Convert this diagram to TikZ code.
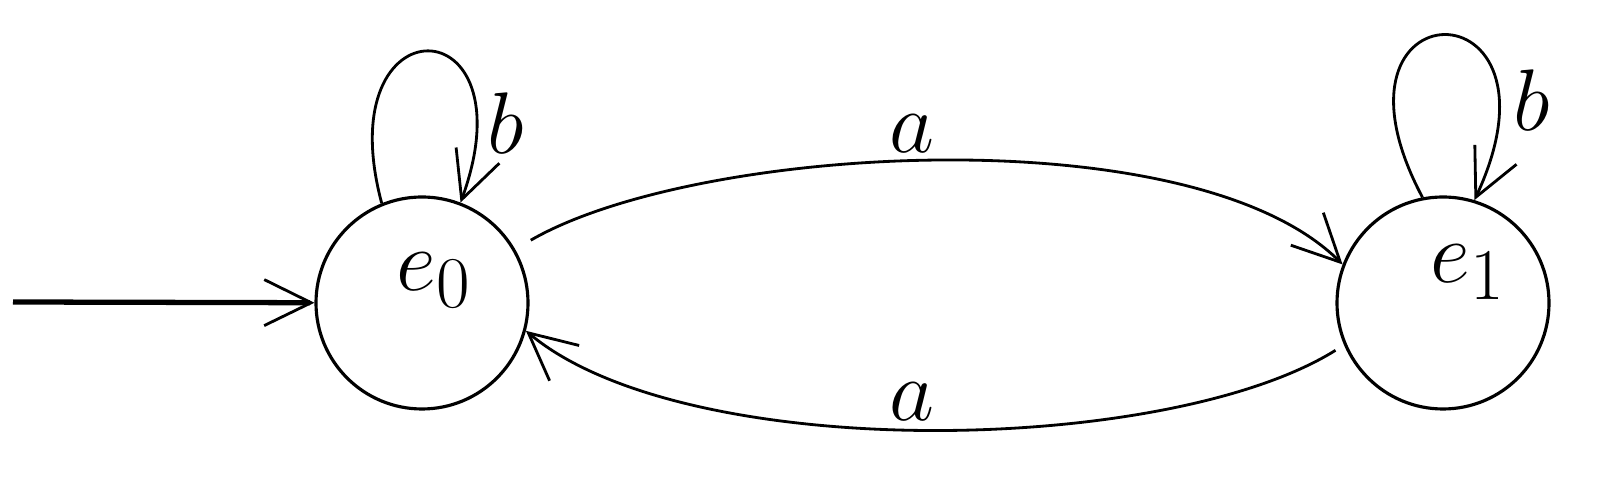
\documentclass[tikz,border=0pt]{standalone}
\usetikzlibrary{arrows.meta}
\usetikzlibrary{math}
\tikzset{
  state/.style={draw, circle, line width=0.9pt, minimum size=2.12cm, inner sep=0pt},
  trans/.style={line width=0.8pt, -{Straight Barb[length=4.7mm,width=4.6mm]}},
  init/.style={line width=1.5pt, -{Straight Barb[length=4.7mm,width=4.6mm,line width=0.8pt]}},
  lbl/.style={font=\fontsize{25}{30}\selectfont, inner sep=0pt},
  stname/.style={font=\fontsize{30}{36}\selectfont, inner sep=0pt},
}

\begin{document}
\begin{tikzpicture}
\tikzmath{
\xa=4.22;
\xb=14.43;
\yc=1.74;
}
\useasboundingbox (0,0) rectangle (15.99,4.77);

\node[state] (e0) at (\xa,\yc) {};
\node[state] (e1) at (\xb,\yc) {};
\node[stname] (n0) at (4.34,1.965) {$e_0$};
\node[stname] (n1) at (14.68,2.045) {$e_1$};

\coordinate (start) at (0.13,1.75);
\draw[init] (start) -- (e0);

% transitions on a
\draw[trans, shorten <=1.8mm] (e0.30) to[out=30, in=135, looseness=0.65] (e1.159);
\draw[trans, shorten <=1mm] (e1.203) to[out=212, in=-40, looseness=0.65] (e0.-15);
\node[lbl] (a1) at (9.12,3.43) {$a$};
\node[lbl] (a2) at (9.12,0.75) {$a$};

% loops on b
\draw[trans] (e0.112) to[out=105, in=70, distance=2.12cm] (e0.69);
\draw[trans] (e1.101) to[out=118, in=65, distance=2.44cm] (e1.73);
\node[lbl] (b0) at (5.06,3.54) {$b$};
\node[lbl] (b1) at (15.32,3.77) {$b$};
\end{tikzpicture}
\end{document}
